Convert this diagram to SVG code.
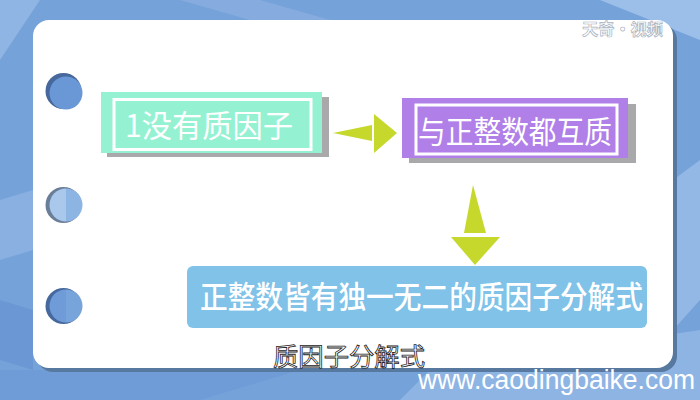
<svg xmlns="http://www.w3.org/2000/svg" width="700" height="400" viewBox="0 0 700 400">
<defs>
<style>
.zh{font-family:"Noto Sans CJK SC","Noto Sans",sans-serif;}
.lbl{fill:#ffffff;font-size:31px;}
.arrow{fill:#c5d82b;}
.frame{fill:none;stroke:#ffffff;stroke-width:3;}
.shadow{fill:#a9a9ab;}
</style>
</defs>
<rect x="0" y="0" width="700" height="400" fill="#76a2da"/>
<polygon points="0,0 40,0 0,60" fill="#8fb5e4"/>
<polygon points="180,0 260,0 330,20 250,20" fill="#86acdf"/>
<polygon points="600,0 700,0 700,40" fill="#9cbfea"/>
<polygon points="0,200 33,190 33,250 0,260" fill="#8ab0e2"/>
<polygon points="0,300 33,310 33,370 0,360" fill="#6b98d4"/>
<polygon points="673,180 700,160 700,300 673,330" fill="#93b8e6"/>
<polygon points="0,370 300,370 200,400 0,400" fill="#6f9cd6"/>
<polygon points="430,370 700,330 700,400 400,400" fill="#8eb4e4"/>
<rect x="37" y="24" width="640" height="348" rx="16" fill="#58799f"/>
<rect x="33" y="20" width="640" height="348" rx="16" fill="#ffffff"/>
<text x="582" y="35" class="zh" font-size="16" font-weight="bold" fill="#ffffff" stroke="#a8b2c0" stroke-width="0.7" textLength="81" lengthAdjust="spacingAndGlyphs">天奇·视频</text>
<g id="holes">
<circle cx="63.5" cy="91" r="18" fill="#46689c"/>
<circle cx="66" cy="93" r="16.5" fill="#6a98d6"/>
<circle cx="63.5" cy="205" r="18" fill="#6b7e98"/>
<path d="M66,188.5 A16.5,16.5 0 0 0 66,221.5 Z" fill="#aac8ec"/>
<path d="M66,188.5 A16.5,16.5 0 0 1 66,221.5 Z" fill="#8db5e4"/>
<circle cx="63.5" cy="306" r="18" fill="#46689c"/>
<path d="M66,289.5 A16.5,16.5 0 0 0 66,322.5 Z" fill="#6f9cd8"/>
<path d="M66,289.5 A16.5,16.5 0 0 1 66,322.5 Z" fill="#78a4dc"/>
</g>
<g id="connectors">
<polygon class="arrow" points="333,133 372,125 372,141"/>
<polygon class="arrow" points="374,114 397,133 374,153"/>
<polygon class="arrow" points="473,185 464,233 486,233"/>
<polygon class="arrow" points="451,237 500,237 475,265"/>
</g>
<g id="node1">
<rect class="shadow" x="107" y="97" width="222" height="60"/>
<rect x="101" y="92" width="221" height="61" fill="#94f2d2"/>
<rect class="frame" x="114" y="99.5" width="197" height="50"/>
<text x="125" y="137" class="zh lbl" textLength="168" lengthAdjust="spacingAndGlyphs">1没有质因子</text>
</g>
<g id="node2">
<rect class="shadow" x="409" y="104" width="227" height="59"/>
<rect x="402" y="98" width="226" height="60" fill="#b07fe8"/>
<rect class="frame" x="416" y="105" width="201" height="49"/>
<text x="418" y="143" class="zh lbl" textLength="194" lengthAdjust="spacingAndGlyphs">与正整数都互质</text>
</g>
<g id="node3">
<rect x="187" y="266" width="460" height="62" rx="6" fill="#80c2e8"/>
<text x="200" y="308" class="zh lbl" font-weight="500" font-size="28" textLength="443" lengthAdjust="spacingAndGlyphs">正整数皆有独一无二的质因子分解式</text>
</g>
<text x="273" y="366" class="zh" font-size="25" fill="#ffffff" stroke="#222222" stroke-width="0.8" textLength="152" lengthAdjust="spacingAndGlyphs">质因子分解式</text>
<text x="418" y="389" font-family="Liberation Sans,Arial,sans-serif" font-size="27" fill="#ffffff" textLength="277" lengthAdjust="spacingAndGlyphs">www.caodingbaike.com</text>
</svg>
